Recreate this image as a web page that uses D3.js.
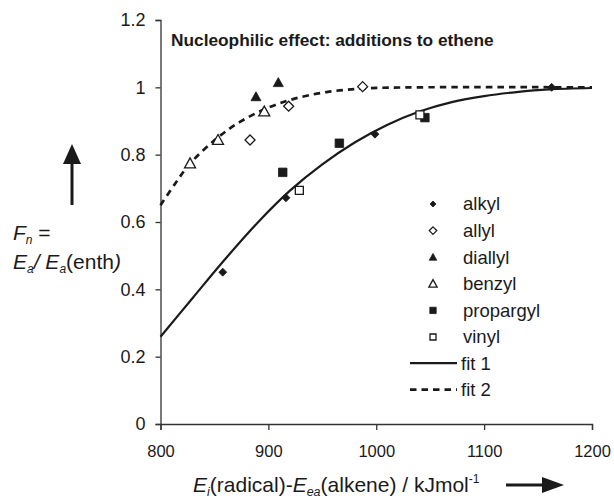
<!DOCTYPE html>
<html><head><meta charset="utf-8">
<script src="https://cdn.jsdelivr.net/npm/d3@7"></script>
<style>
html,body{margin:0;padding:0;background:#fff;}
svg{display:block;font-family:"Liberation Sans",Arial,Helvetica,sans-serif;}
</style></head>
<body>
<svg id="chart" width="614" height="499"></svg>
<script>
// ---- data ----
const xTicks = [800, 900, 1000, 1100, 1200];
const yTicks = [0, 0.2, 0.4, 0.6, 0.8, 1, 1.2];
const yTickLabels = ["0", "0.2", "0.4", "0.6", "0.8", "1", "1.2"];

const alkyl     = [[857.7, 0.451], [916.3, 0.672], [998.8, 0.861], [1162.6, 1.000]];
const allyl     = [[883.0, 0.8435], [918.8, 0.944], [987.4, 1.002]];
const diallyl   = [[888.5, 0.972], [909.2, 1.014]];
const benzyl    = [[827.4, 0.774], [853.3, 0.8435], [896.2, 0.928]];
const propargyl = [[913.3, 0.7475], [965.8, 0.834], [1045.1, 0.910]];
const vinyl     = [[928.7, 0.694], [1040.5, 0.918]];

const fit1 = [[800, 0.259], [830, 0.375], [860, 0.490], [890, 0.598], [920, 0.693], [950, 0.771],
              [980, 0.836], [1010, 0.888], [1040, 0.928], [1070, 0.956], [1100, 0.974],
              [1130, 0.986], [1160, 0.994], [1200, 0.998]];
const fit2 = [[800, 0.650], [814, 0.716], [827, 0.772], [852, 0.848], [874, 0.898], [898, 0.937],
              [923, 0.965], [954, 0.986], [991, 0.997], [1040, 1.0], [1200, 1.0]];

const seriesNames = ["alkyl", "allyl", "diallyl", "benzyl", "propargyl", "vinyl"];
const fitNames = ["fit 1", "fit 2"];

// ---- drawing ----
const svg = d3.select("#chart");
const ink = "#1a1a1a";
const x = d3.scaleLinear().domain([800, 1200]).range([160.5, 592]);
const y = d3.scaleLinear().domain([0, 1.2]).range([424, 20]);

// axes
const gx = svg.append("g").attr("transform", `translate(0,${y(0)})`)
  .call(d3.axisBottom(x).tickValues(xTicks).tickSize(6).tickPadding(15).tickFormat(d3.format("d")));
const gy = svg.append("g").attr("transform", `translate(${x(800)},0)`)
  .call(d3.axisLeft(y).tickValues(yTicks).tickSize(5).tickPadding(10)
        .tickFormat((d, i) => yTickLabels[i]));
[gx, gy].forEach(g => {
  g.select(".domain").attr("stroke", "#333").attr("stroke-width", 1.3);
  g.selectAll(".tick line").attr("stroke", "#333").attr("stroke-width", 1.3);
  g.selectAll(".tick text").attr("fill", ink)
   .style("font-family", '"Liberation Sans",Arial,sans-serif');
});
gx.selectAll(".tick text").style("font-size", "16.5px");
gy.selectAll(".tick text").style("font-size", "18px");

// fit lines
const line = d3.line().x(d => x(d[0])).y(d => y(d[1])).curve(d3.curveCatmullRom.alpha(0.5));
svg.append("path").datum(fit1).attr("d", line).attr("fill", "none")
  .attr("stroke", ink).attr("stroke-width", 2.2);
svg.append("path").datum(fit2).attr("d", line).attr("fill", "none")
  .attr("stroke", ink).attr("stroke-width", 2.7).attr("stroke-dasharray", "6.5,5");

// marker shapes
function markerPath(kind, s) {
  const h = s / 2;
  if (kind === "diamond") return `M0,${-h}L${h},0L0,${h}L${-h},0Z`;
  if (kind === "triangle") return `M0,${-h}L${h},${h * 0.8}L${-h},${h * 0.8}Z`;
  return `M${-h},${-h}H${h}V${h}H${-h}Z`;
}
const styles = {
  alkyl:     {kind: "diamond",  fill: true,  size: 8,   data: alkyl},
  allyl:     {kind: "diamond",  fill: false, size: 10,  data: allyl},
  diallyl:   {kind: "triangle", fill: true,  size: 10,  data: diallyl},
  benzyl:    {kind: "triangle", fill: false, size: 11,  data: benzyl},
  propargyl: {kind: "square",   fill: true,  size: 8.5, data: propargyl},
  vinyl:     {kind: "square",   fill: false, size: 8,   data: vinyl}
};
function drawMarker(g, st, cx, cy, scale) {
  g.append("path").attr("d", markerPath(st.kind, st.size * scale))
    .attr("transform", `translate(${cx},${cy})`)
    .attr("fill", st.fill ? ink : "#fff")
    .attr("stroke", ink).attr("stroke-width", st.fill ? 0.8 : 1.3);
}
const pts = svg.append("g");
seriesNames.forEach(n => {
  const st = styles[n];
  st.data.forEach(d => drawMarker(pts, st, x(d[0]), y(d[1]), 1));
});

// title
svg.append("text").attr("x", 171).attr("y", 46)
  .style("font-size", "17.3px").style("font-weight", "bold").attr("fill", ink)
  .text("Nucleophilic effect: additions to ethene");

// legend
const lg = svg.append("g");
const rowY = i => 204 + i * 26.6;
seriesNames.forEach((n, i) => {
  drawMarker(lg, styles[n], 433, rowY(i), 0.75);
  lg.append("text").attr("x", 463).attr("y", rowY(i)).attr("dy", "0.35em")
    .style("font-size", "18.5px").attr("fill", ink).text(n);
});
fitNames.forEach((n, j) => {
  const yy = rowY(seriesNames.length + j) - 0.5;
  lg.append("line").attr("x1", 410).attr("x2", 457).attr("y1", yy).attr("y2", yy)
    .attr("stroke", ink).attr("stroke-width", j === 0 ? 2.2 : 2.7)
    .attr("stroke-dasharray", j === 0 ? null : "6.5,5");
  lg.append("text").attr("x", 461).attr("y", yy).attr("dy", "0.35em")
    .style("font-size", "18.5px").attr("fill", ink).text(n);
});

// y-axis label
const yl = svg.append("text").attr("x", 13).attr("y", 240).style("font-size", "21px").attr("fill", ink);
yl.append("tspan").style("font-style", "italic").text("F");
yl.append("tspan").style("font-style", "italic").style("font-size", "12px").attr("dy", 4).text("n");
yl.append("tspan").attr("dy", -4).text(" =");
const yl2 = svg.append("text").attr("x", 13).attr("y", 269).style("font-size", "21px").attr("fill", ink);
yl2.append("tspan").style("font-style", "italic").text("E");
yl2.append("tspan").style("font-style", "italic").style("font-size", "12px").attr("dy", 4).text("a");
yl2.append("tspan").style("font-style", "italic").attr("dy", -4).text("/ E");
yl2.append("tspan").style("font-style", "italic").style("font-size", "12px").attr("dy", 4).text("a");
yl2.append("tspan").attr("dy", -4).text("(enth");
yl2.append("tspan").style("font-style", "italic").text(")");

// y arrow
svg.append("line").attr("x1", 72).attr("x2", 72).attr("y1", 205).attr("y2", 160)
  .attr("stroke", ink).attr("stroke-width", 3);
svg.append("path").attr("d", "M72,144L81,164L63,164Z").attr("fill", ink);

// x-axis label
const xl = svg.append("text").attr("x", 193).attr("y", 492).style("font-size", "21px").attr("fill", ink);
xl.append("tspan").style("font-style", "italic").text("E");
xl.append("tspan").style("font-style", "italic").style("font-size", "12.5px").attr("dy", 4).text("i");
xl.append("tspan").attr("dy", -4).text("(radical)-");
xl.append("tspan").style("font-style", "italic").text("E");
xl.append("tspan").style("font-style", "italic").style("font-size", "12.5px").attr("dy", 4).text("ea");
xl.append("tspan").attr("dy", -4).text("(alkene) / kJmol");
xl.append("tspan").style("font-size", "12px").attr("dy", -9).text("-1");

// x arrow
svg.append("line").attr("x1", 506).attr("x2", 545).attr("y1", 485).attr("y2", 485)
  .attr("stroke", ink).attr("stroke-width", 3);
svg.append("path").attr("d", "M564,485L542,477L542,493Z").attr("fill", ink);
</script>
</body></html>
